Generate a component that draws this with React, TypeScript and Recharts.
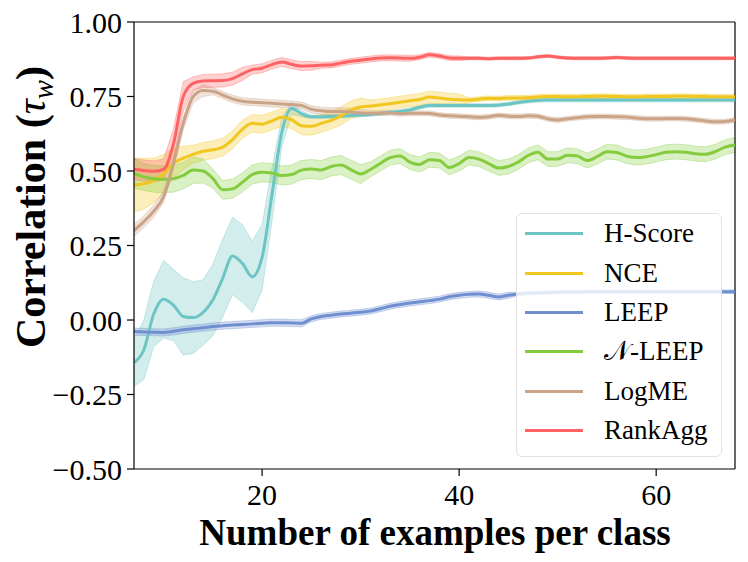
import React from 'react';
import { ComposedChart, Line, Area, XAxis, YAxis, ReferenceLine, Label } from 'recharts';

const FONT = '"Liberation Serif", "Times New Roman", serif';

// number of examples per class
const xs = [
  7, 8, 9, 10, 11, 12, 13, 14, 15, 16, 17, 18, 19, 20, 21, 22, 23, 24, 25, 26, 27,
  28, 29, 30, 31, 32, 33, 34, 35, 36, 37, 38, 39, 40, 41, 42, 43, 44, 45, 46, 47, 48,
  49, 50, 51, 52, 53, 54, 55, 56, 57, 58, 59, 60, 61, 62, 63, 64, 65, 66, 67, 68,
];

const hScore = [
  -0.143, -0.1, 0.02, 0.07, 0.05, 0.012, 0.008, 0.025, 0.067, 0.14, 0.215, 0.19, 0.145, 0.21, 0.42,
  0.63, 0.71, 0.692, 0.682, 0.682, 0.683, 0.684, 0.686, 0.688, 0.69, 0.693, 0.697, 0.7, 0.705,
  0.714, 0.72, 0.72, 0.72, 0.72, 0.72, 0.72, 0.72, 0.721, 0.725, 0.73, 0.734, 0.737, 0.738,
  0.738, 0.738, 0.738, 0.738, 0.738, 0.738, 0.738, 0.738, 0.738, 0.738, 0.738, 0.738, 0.738,
  0.738, 0.738, 0.738, 0.738, 0.738, 0.738,
];
const hScoreSd = [
  0.08, 0.1, 0.11, 0.13, 0.12, 0.13, 0.12, 0.11, 0.12, 0.13, 0.13, 0.13, 0.12, 0.11, 0.09, 0.05,
  0.02, 0.01, 0.006, 0.006, 0.006, 0.006, 0.006, 0.006, 0.006, 0.006, 0.006, 0.006, 0.006, 0.006,
  0.006, 0.006, 0.006, 0.006, 0.006, 0.006, 0.006, 0.006, 0.006, 0.006, 0.006, 0.006, 0.006,
  0.006, 0.006, 0.006, 0.006, 0.006, 0.006, 0.006, 0.006, 0.006, 0.006, 0.006, 0.006, 0.006,
  0.006, 0.006, 0.006, 0.006, 0.006, 0.006,
];

const nce = [
  0.453, 0.457, 0.468, 0.49, 0.526, 0.543, 0.556, 0.566, 0.571, 0.58, 0.605, 0.64, 0.66, 0.657,
  0.668, 0.68, 0.672, 0.652, 0.65, 0.66, 0.67, 0.685, 0.705, 0.715, 0.718, 0.722, 0.726, 0.731,
  0.736, 0.74, 0.748, 0.745, 0.741, 0.739, 0.738, 0.741, 0.744, 0.743, 0.745, 0.745, 0.746,
  0.748, 0.75, 0.75, 0.749, 0.749, 0.75, 0.751, 0.751, 0.75, 0.749, 0.749, 0.75, 0.75, 0.75,
  0.751, 0.751, 0.75, 0.75, 0.749, 0.749, 0.749,
];
const nceSd = [
  0.09, 0.085, 0.075, 0.065, 0.05, 0.04, 0.03, 0.03, 0.03, 0.03, 0.03, 0.03, 0.03, 0.03, 0.03,
  0.03, 0.03, 0.03, 0.03, 0.03, 0.03, 0.03, 0.03, 0.03, 0.02, 0.02, 0.02, 0.02, 0.02, 0.02, 0.02,
  0.02, 0.02, 0.02, 0.008, 0.008, 0.008, 0.008, 0.008, 0.008, 0.008, 0.008, 0.008, 0.008, 0.008,
  0.008, 0.008, 0.008, 0.008, 0.008, 0.008, 0.008, 0.008, 0.008, 0.008, 0.008, 0.008, 0.008,
  0.008, 0.008, 0.008, 0.008,
];

const leep = [
  -0.039, -0.04, -0.041, -0.042, -0.038, -0.033, -0.029, -0.026, -0.022, -0.019, -0.017, -0.015,
  -0.013, -0.011, -0.009, -0.009, -0.01, -0.011, 0.004, 0.012, 0.016, 0.02, 0.023, 0.026, 0.03,
  0.038, 0.046, 0.052, 0.057, 0.061, 0.065, 0.07, 0.078, 0.083, 0.086, 0.087, 0.083, 0.077,
  0.083, 0.087, 0.09, 0.091, 0.092, 0.093, 0.094, 0.094, 0.095, 0.095, 0.095, 0.095, 0.095,
  0.095, 0.095, 0.095, 0.095, 0.095, 0.095, 0.095, 0.095, 0.095, 0.095, 0.095,
];
const leepSd = [
  0.012, 0.012, 0.012, 0.012, 0.012, 0.012, 0.012, 0.012, 0.012, 0.012, 0.012, 0.012, 0.012,
  0.012, 0.012, 0.012, 0.012, 0.012, 0.01, 0.01, 0.01, 0.01, 0.01, 0.01, 0.01, 0.01, 0.01, 0.01,
  0.01, 0.01, 0.01, 0.01, 0.01, 0.01, 0.01, 0.01, 0.01, 0.01, 0.01, 0.006, 0.006, 0.006, 0.006,
  0.006, 0.006, 0.006, 0.006, 0.006, 0.006, 0.006, 0.006, 0.006, 0.006, 0.006, 0.006, 0.006,
  0.006, 0.006, 0.006, 0.006, 0.006, 0.006,
];

const nLeep = [
  0.492, 0.48, 0.474, 0.472, 0.474, 0.485, 0.503, 0.5, 0.475, 0.437, 0.44, 0.462, 0.488, 0.496,
  0.493, 0.485, 0.488, 0.503, 0.507, 0.503, 0.515, 0.52, 0.505, 0.49, 0.505, 0.525, 0.545, 0.55,
  0.53, 0.522, 0.538, 0.535, 0.512, 0.525, 0.545, 0.54, 0.525, 0.51, 0.515, 0.53, 0.552, 0.563,
  0.54, 0.54, 0.553, 0.55, 0.535, 0.548, 0.565, 0.562, 0.55, 0.545, 0.548, 0.555, 0.563, 0.565,
  0.563, 0.558, 0.556, 0.565, 0.58, 0.587,
];
const nLeepSd = [
  0.05, 0.045, 0.045, 0.045, 0.045, 0.045, 0.045, 0.04, 0.032, 0.032, 0.032, 0.032, 0.032, 0.032,
  0.032, 0.032, 0.032, 0.032, 0.032, 0.032, 0.032, 0.032, 0.032, 0.032, 0.025, 0.025, 0.025,
  0.025, 0.025, 0.025, 0.025, 0.025, 0.025, 0.025, 0.025, 0.025, 0.025, 0.025, 0.025, 0.025,
  0.025, 0.025, 0.025, 0.025, 0.025, 0.025, 0.025, 0.025, 0.025, 0.025, 0.025, 0.025, 0.025,
  0.025, 0.025, 0.025, 0.025, 0.025, 0.025, 0.025, 0.025, 0.025,
];

const logMe = [
  0.3, 0.33, 0.365, 0.414, 0.525, 0.66, 0.749, 0.77, 0.768, 0.755, 0.742, 0.734, 0.731, 0.729,
  0.727, 0.725, 0.723, 0.72, 0.707, 0.702, 0.7, 0.7, 0.698, 0.695, 0.694, 0.694, 0.695, 0.692,
  0.694, 0.694, 0.693, 0.688, 0.685, 0.684, 0.682, 0.68, 0.682, 0.687, 0.684, 0.683, 0.685,
  0.684, 0.675, 0.671, 0.675, 0.679, 0.682, 0.683, 0.683, 0.682, 0.681, 0.678, 0.675, 0.675,
  0.676, 0.676, 0.675, 0.672, 0.668, 0.665, 0.666, 0.671,
];
const logMeSd = [
  0.02, 0.02, 0.02, 0.02, 0.02, 0.02, 0.02, 0.02, 0.012, 0.012, 0.012, 0.012, 0.012, 0.012, 0.012,
  0.012, 0.012, 0.012, 0.012, 0.012, 0.012, 0.012, 0.012, 0.012, 0.008, 0.008, 0.008, 0.008,
  0.008, 0.008, 0.008, 0.008, 0.008, 0.008, 0.008, 0.008, 0.008, 0.008, 0.008, 0.008, 0.008,
  0.008, 0.008, 0.008, 0.008, 0.008, 0.008, 0.008, 0.008, 0.008, 0.008, 0.008, 0.008, 0.008,
  0.008, 0.008, 0.008, 0.008, 0.008, 0.008, 0.008, 0.008,
];

const rankAgg = [
  0.506, 0.502, 0.499, 0.505, 0.59, 0.75, 0.794, 0.802, 0.803, 0.804, 0.81, 0.826, 0.84, 0.845,
  0.857, 0.866, 0.858, 0.852, 0.853, 0.855, 0.856, 0.862, 0.868, 0.872, 0.876, 0.879, 0.88,
  0.879, 0.878, 0.882, 0.89, 0.886, 0.879, 0.878, 0.878, 0.878, 0.877, 0.878, 0.878, 0.878,
  0.879, 0.883, 0.886, 0.882, 0.879, 0.878, 0.878, 0.878, 0.879, 0.881, 0.879, 0.878, 0.878,
  0.878, 0.878, 0.878, 0.878, 0.878, 0.878, 0.878, 0.878, 0.878,
];
const rankAggSd = [
  0.035, 0.035, 0.035, 0.035, 0.05, 0.05, 0.022, 0.022, 0.022, 0.022, 0.022, 0.022, 0.015, 0.015,
  0.015, 0.015, 0.015, 0.015, 0.015, 0.01, 0.01, 0.01, 0.01, 0.01, 0.01, 0.01, 0.01, 0.01, 0.01,
  0.008, 0.008, 0.008, 0.008, 0.008, 0.005, 0.005, 0.005, 0.005, 0.005, 0.005, 0.005, 0.005,
  0.005, 0.005, 0.005, 0.005, 0.005, 0.005, 0.005, 0.005, 0.005, 0.005, 0.005, 0.005, 0.005,
  0.005, 0.005, 0.005, 0.005, 0.005, 0.005, 0.005,
];

const yTicks = [-0.5, -0.25, 0, 0.25, 0.5, 0.75, 1];
const xTicks = [20, 40, 60];

const series = [
  { key: 'hs', name: 'H-Score', color: '#6cc5c4', mean: hScore, sd: hScoreSd },
  { key: 'nce', name: 'NCE', color: '#f1c61f', mean: nce, sd: nceSd },
  { key: 'leep', name: 'LEEP', color: '#6f8fd0', mean: leep, sd: leepSd },
  { key: 'nleep', name: '\u{1D4A9}-LEEP', color: '#84cc3e', mean: nLeep, sd: nLeepSd },
  { key: 'logme', name: 'LogME', color: '#cba387', mean: logMe, sd: logMeSd },
  { key: 'rank', name: 'RankAgg', color: '#ff6262', mean: rankAgg, sd: rankAggSd },
];

const rows = xs.map((x, i) => {
  const row: any = { x };
  series.forEach(s => {
    row[s.key] = s.mean[i];
    row[s.key + 'Band'] = [s.mean[i] - s.sd[i], s.mean[i] + s.sd[i]];
  });
  return row;
});

const fmtY = (v: number) => (v < 0 ? '\u2212' + Math.abs(v).toFixed(2) : v.toFixed(2));

const XTick = ({ x, y, payload }: any) => (
  <text x={x} y={y} dy="0.71em" textAnchor="middle" fontFamily={FONT} fontSize={30} fill="#000">
    {payload.value}
  </text>
);

const YTick = ({ x, y, payload }: any) => (
  <text x={x} y={y} dy="0.355em" textAnchor="end" fontFamily={FONT} fontSize={30} fill="#000">
    {fmtY(payload.value)}
  </text>
);

const XLabel = () => (
  <text x={435} y={545} textAnchor="middle" fontFamily={FONT} fontWeight="bold" fontSize={37} fill="#000">
    Number of examples per class
  </text>
);

const YLabel = () => (
  <text transform="translate(45,207) rotate(-90)" textAnchor="middle" fontFamily={FONT} fontWeight="bold" fontSize={42} fill="#000">
    Correlation (
    <tspan fontStyle="italic" fontWeight="normal">τ</tspan>
    <tspan fontStyle="italic" fontWeight="normal" fontSize={29} dy={8}>w</tspan>
    <tspan dy={-8}>)</tspan>
  </text>
);

const LegendBox = () => (
  <div
    style={{
      position: 'absolute', left: 516, top: 213, width: 206, height: 244, boxSizing: 'border-box',
      border: '1px solid #e2e2e2', borderRadius: 6, background: 'rgba(255,255,255,0.8)',
    }}
  >
    {series.map(s => (
      <div key={s.key} style={{ position: 'relative', height: 39.4, display: 'flex', alignItems: 'center' }}>
        <div style={{ position: 'absolute', left: 8, width: 58, height: 3, background: s.color }} />
        <span style={{ position: 'absolute', left: 87, fontFamily: FONT, fontSize: 27, lineHeight: '39px', color: '#000' }}>
          {s.name}
        </span>
      </div>
    ))}
  </div>
);

export default function App() {
  return (
    <div style={{ position: 'absolute', left: 0, top: 0, width: 748, height: 562, background: '#fff' }}>
      <ComposedChart width={748} height={562} data={rows} margin={{ top: 22, right: 13, left: 0, bottom: 0 }}>
        <XAxis
          dataKey="x"
          type="number"
          domain={[7, 68]}
          ticks={xTicks}
          interval={0}
          height={93}
          tickSize={7}
          tickMargin={8}
          stroke="#000"
          strokeWidth={1.2}
          tick={XTick}
          allowDataOverflow
        >
          <Label content={XLabel} />
        </XAxis>
        <YAxis
          type="number"
          domain={[-0.5, 1]}
          ticks={yTicks}
          interval={0}
          width={134}
          tickSize={7}
          tickMargin={5}
          stroke="#000"
          strokeWidth={1.2}
          tick={YTick}
          allowDataOverflow
        >
          <Label content={YLabel} />
        </YAxis>
        <ReferenceLine y={1} stroke="#000" strokeWidth={1.2} />
        <ReferenceLine x={68} stroke="#000" strokeWidth={1.2} />
        {series.flatMap(s => [
          <Area
            key={s.key + 'Band'}
            dataKey={s.key + 'Band'}
            type="linear"
            stroke={s.color}
            strokeOpacity={0.35}
            strokeWidth={1}
            fill={s.color}
            fillOpacity={0.3}
            dot={false}
            activeDot={false}
            isAnimationActive={false}
          />,
          <Line
            key={s.key}
            dataKey={s.key}
            type="monotone"
            stroke={s.color}
            strokeWidth={3}
            dot={false}
            activeDot={false}
            isAnimationActive={false}
          />,
        ])}
      </ComposedChart>
      <LegendBox />
    </div>
  );
}
